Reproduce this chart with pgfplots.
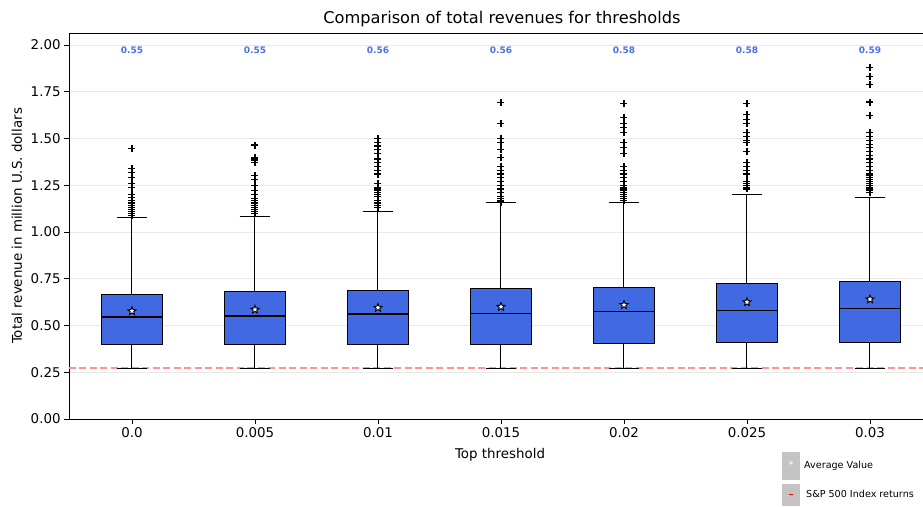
\documentclass[border=0pt]{standalone}
\usepackage{pgfplots}
\pgfplotsset{compat=1.18}
\usepgfplotslibrary{statistics}
\usetikzlibrary{shapes.geometric}
\usepackage{fontspec}
\setmainfont{DejaVu Sans}
\definecolor{boxblue}{RGB}{65,105,225}
\definecolor{lblblue}{RGB}{72,112,232}
\definecolor{leggray}{RGB}{196,196,196}
\pgfdeclareplotmark{fstar}{\node[star,star points=5,star point ratio=2.3,draw=black,fill=white,line width=0.9pt,inner sep=0pt,minimum size=8.5pt]{};}
\newcommand{\tickfont}{\fontsize{13.4}{15}\selectfont}
\begin{document}
\begin{tikzpicture}[x=1pt,y=1pt]
\useasboundingbox (0,0) rectangle (923,506);
\begin{axis}[name=ax, at={(69pt,87pt)}, anchor=south west, width=854pt, height=386pt, scale only axis,
  xmin=-0.512, xmax=6.431, ymin=0, ymax=2.064,
  axis x line*=bottom, axis y line*=left,
  axis line style={-,black,line width=0.8pt},
  tick align=outside, major tick length=4.9pt, tick style={black,line width=0.8pt},
  xtick={0,1,2,3,4,5,6}, xticklabels={0.0,0.005,0.01,0.015,0.02,0.025,0.03},
  ytick={0,0.25,0.5,0.75,1,1.25,1.5,1.75,2},
  yticklabels={0.00,0.25,0.50,0.75,1.00,1.25,1.50,1.75,2.00},
  ticklabel style={font=\tickfont},
  ymajorgrids, grid style={gray!18,line width=0.8pt},
  boxplot/draw direction=y,
  boxplot/box extend=0.5, boxplot/whisker extend=0.25,
  boxplot/every box/.style={line width=1.1pt},
  boxplot/every whisker/.style={line width=1pt},
  boxplot/every median/.style={line width=1.6pt},
]
\addplot[red!42!white, mark=none, dash pattern=on 7pt off 3.5pt, line width=1.5pt, forget plot] table[row sep=\\, header=false] {-0.6 0.274\\ 6.6 0.274\\};

\addplot[boxplot prepared={draw position=0, lower whisker=0.27, lower quartile=0.396, median=0.545, upper quartile=0.668, upper whisker=1.075},
  fill=boxblue, draw=black, mark=+, mark size=3.5pt, mark options={black,line width=1.1pt}]
  table[row sep=\\, y index=0, header=false]{1.444\\1.34\\1.32\\1.29\\1.26\\1.24\\1.20\\1.185\\1.17\\1.16\\1.15\\1.14\\1.13\\1.12\\1.11\\1.10\\1.09\\};
\addplot[boxplot prepared={draw position=1, lower whisker=0.27, lower quartile=0.40, median=0.55, upper quartile=0.68, upper whisker=1.085},
  fill=boxblue, draw=black, mark=+, mark size=3.5pt, mark options={black,line width=1.1pt}]
  table[row sep=\\, y index=0, header=false]{1.465\\1.40\\1.39\\1.38\\1.37\\1.30\\1.28\\1.25\\1.22\\1.20\\1.18\\1.17\\1.16\\1.15\\1.14\\1.13\\1.12\\1.11\\1.10\\};
\addplot[boxplot prepared={draw position=2, lower whisker=0.27, lower quartile=0.40, median=0.56, upper quartile=0.685, upper whisker=1.11},
  fill=boxblue, draw=black, mark=+, mark size=3.5pt, mark options={black,line width=1.1pt}]
  table[row sep=\\, y index=0, header=false]{1.50\\1.48\\1.46\\1.44\\1.42\\1.39\\1.37\\1.35\\1.33\\1.31\\1.26\\1.24\\1.23\\1.22\\1.21\\1.20\\1.19\\1.17\\1.16\\1.15\\1.14\\1.13\\};
\addplot[boxplot prepared={draw position=3, lower whisker=0.27, lower quartile=0.40, median=0.565, upper quartile=0.70, upper whisker=1.155},
  fill=boxblue, draw=black, mark=+, mark size=3.5pt, mark options={black,line width=1.1pt}]
  table[row sep=\\, y index=0, header=false]{1.69\\1.58\\1.50\\1.48\\1.44\\1.40\\1.35\\1.33\\1.31\\1.29\\1.27\\1.25\\1.23\\1.21\\1.19\\1.18\\1.17\\1.165\\1.16\\};
\addplot[boxplot prepared={draw position=4, lower whisker=0.27, lower quartile=0.405, median=0.575, upper quartile=0.705, upper whisker=1.155},
  fill=boxblue, draw=black, mark=+, mark size=3.5pt, mark options={black,line width=1.1pt}]
  table[row sep=\\, y index=0, header=false]{1.685\\1.61\\1.58\\1.56\\1.53\\1.48\\1.45\\1.42\\1.35\\1.33\\1.31\\1.29\\1.27\\1.25\\1.24\\1.23\\1.22\\1.21\\1.20\\1.19\\1.18\\1.17\\};
\addplot[boxplot prepared={draw position=5, lower whisker=0.27, lower quartile=0.41, median=0.58, upper quartile=0.725, upper whisker=1.20},
  fill=boxblue, draw=black, mark=+, mark size=3.5pt, mark options={black,line width=1.1pt}]
  table[row sep=\\, y index=0, header=false]{1.685\\1.63\\1.60\\1.58\\1.53\\1.51\\1.49\\1.48\\1.43\\1.37\\1.35\\1.33\\1.31\\1.27\\1.26\\1.25\\1.24\\1.23\\};
\addplot[boxplot prepared={draw position=6, lower whisker=0.27, lower quartile=0.41, median=0.59, upper quartile=0.735, upper whisker=1.185},
  fill=boxblue, draw=black, mark=+, mark size=3.5pt, mark options={black,line width=1.1pt}]
  table[row sep=\\, y index=0, header=false]{1.88\\1.83\\1.79\\1.695\\1.625\\1.53\\1.51\\1.49\\1.47\\1.45\\1.43\\1.41\\1.39\\1.37\\1.35\\1.33\\1.31\\1.30\\1.29\\1.28\\1.27\\1.26\\1.25\\1.24\\1.23\\1.22\\1.21\\};

\addplot[only marks, mark=fstar] coordinates {(0,0.577) (1,0.585) (2,0.595) (3,0.60) (4,0.61) (5,0.625) (6,0.64)};

\addplot[draw=none, mark=none, nodes near coords, point meta=explicit symbolic,
  nodes near coords style={font=\fontsize{9}{10}\selectfont\bfseries, text=lblblue, anchor=center}]
  coordinates {(0,1.97)[0.55] (1,1.97)[0.55] (2,1.97)[0.56] (3,1.97)[0.56] (4,1.97)[0.58] (5,1.97)[0.58] (6,1.97)[0.59]};
\end{axis}
\draw[black,line width=0.8pt] (ax.north west) -- (ax.north east);
\node[font=\fontsize{16.2}{18}\selectfont] at (502,487) {Comparison of total revenues for thresholds};
\node[font=\tickfont] at (500,51) {Top threshold};
\node[font=\tickfont, rotate=90] at (17,280) {Total revenue in million U.S. dollars};
% legend
\fill[leggray] (782,26) rectangle (800,54);
\node[text=white, font=\fontsize{10}{10}\selectfont] at (791,41) {*};
\node[anchor=west, font=\fontsize{9.6}{11}\selectfont, inner sep=0pt] at (804,40) {Average Value};
\fill[leggray] (782,0) rectangle (800,22);
\draw[red, line width=1pt] (788.5,12) -- (792.5,12);
\node[anchor=west, font=\fontsize{9.6}{11}\selectfont, inner sep=0pt] at (806,12) {S\&P 500 Index returns};
\end{tikzpicture}
\end{document}
